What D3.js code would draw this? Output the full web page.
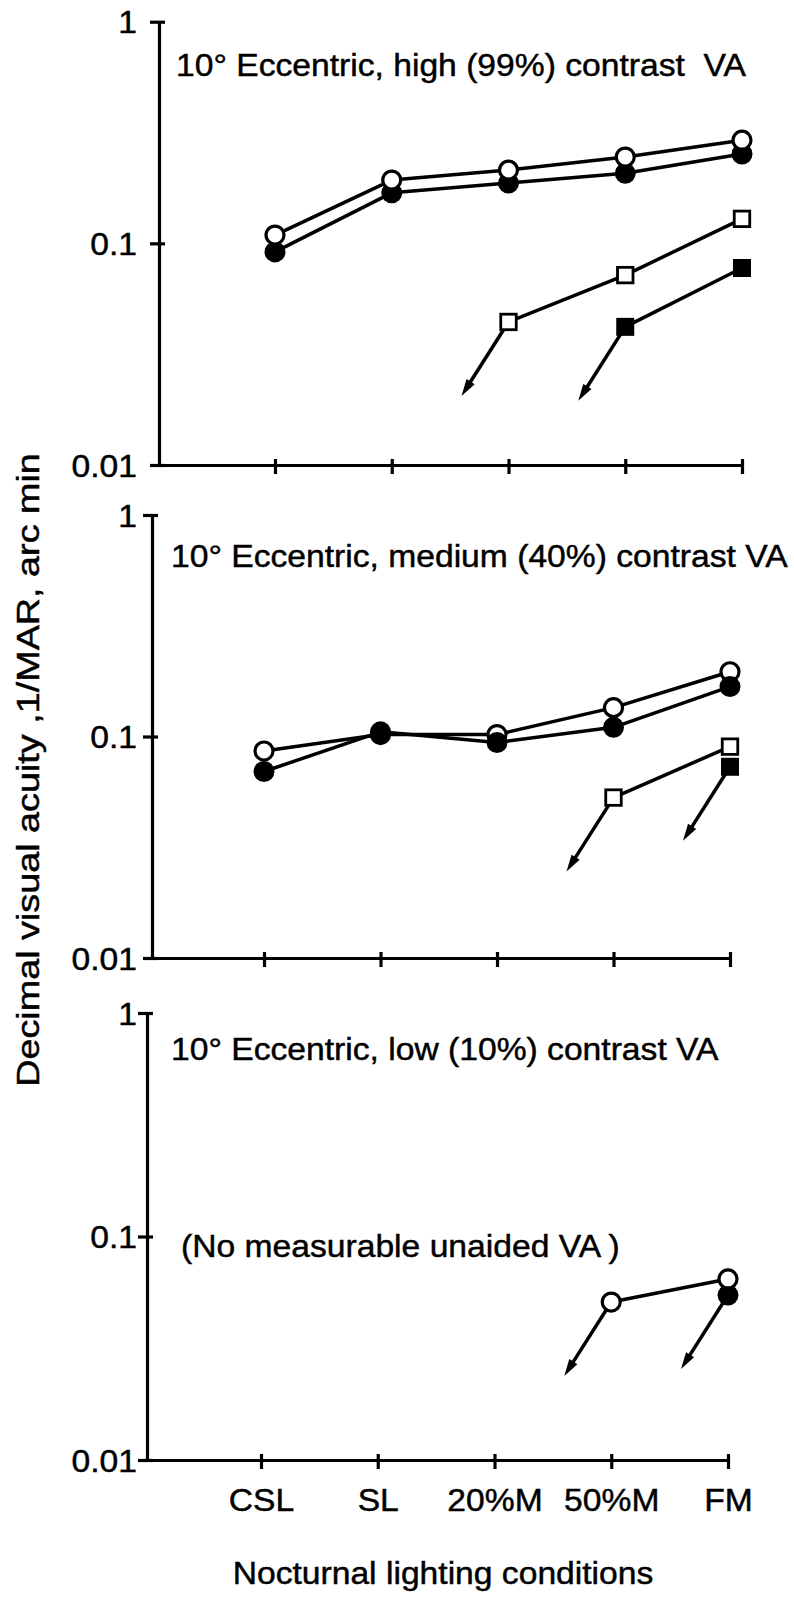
<!DOCTYPE html>
<html>
<head>
<meta charset="utf-8">
<script src="https://cdn.jsdelivr.net/npm/d3@7"></script>
<style>
  html, body { margin: 0; padding: 0; background: #fff; }
  svg { display: block; }
  text { font-family: "Liberation Sans", Arial, Helvetica, sans-serif; font-size: 31px; fill: #000; stroke: #000; stroke-width: 0.45px; white-space: pre; }
</style>
</head>
<body>
<svg id="chart" width="794" height="1608"></svg>
<script>
// ---- data -------------------------------------------------------------
const categories = ["CSL", "SL", "20%M", "50%M", "FM"];
const yTicks = [0.01, 0.1, 1];
const yTickLabels = ["0.01", "0.1", "1"];

const panelTitles = [
  "10\u00B0 Eccentric, high (99%) contrast  VA",
  "10\u00B0 Eccentric, medium (40%) contrast VA",
  "10\u00B0 Eccentric, low (10%) contrast VA"
];
const lowContrastNote = "(No measurable unaided VA )";
const yTitle = "Decimal visual acuity ,1/MAR, arc min";
const xTitle = "Nocturnal lighting conditions";

// high (99%) contrast
const highOpenCircles   = [0.109, 0.193, 0.214, 0.245, 0.292];
const highFilledCircles = [0.0915, 0.169, 0.187, 0.207, 0.253];
const highOpenSquares   = [null, null, 0.0442, 0.0719, 0.129];
const highFilledSquares = [null, null, null, 0.042, 0.0774];

// medium (40%) contrast
const mediumOpenCircles   = [0.086, 0.102, 0.102, 0.135, 0.196];
const mediumFilledCircles = [0.0695, 0.105, 0.094, 0.110, 0.168];
const mediumOpenSquares   = [null, null, null, 0.053, 0.090];
const mediumFilledSquares = [null, null, null, null, 0.073];

// low (10%) contrast
const lowOpenCircles   = [null, null, null, 0.0509, 0.0646];
const lowFilledCircles = [null, null, null, null, 0.0547];

// ---- layout -----------------------------------------------------------
const STRETCH = 1.085;
const LABEL_RIGHT = 137;

const panels = [
  {
    title: panelTitles[0], titleX: 176, titleY: 76,
    axisX: 159, firstX: 275, lastX: 742, top: 21.7, bottom: 465,
    showCategoryLabels: false,
    series: [
      { values: highFilledCircles, shape: "circle", filled: true },
      { values: highOpenCircles,   shape: "circle", filled: false },
      { values: highOpenSquares,   shape: "square", filled: false, belowRange: true },
      { values: highFilledSquares, shape: "square", filled: true,  belowRange: true }
    ]
  },
  {
    title: panelTitles[1], titleX: 171, titleY: 567,
    axisX: 152, firstX: 264, lastX: 730, top: 515, bottom: 958,
    showCategoryLabels: false,
    series: [
      { values: mediumOpenCircles,   shape: "circle", filled: false },
      { values: mediumFilledCircles, shape: "circle", filled: true },
      { values: mediumOpenSquares,   shape: "square", filled: false, belowRange: true },
      { values: mediumFilledSquares, shape: "square", filled: true,  belowRange: true }
    ]
  },
  {
    title: panelTitles[2], titleX: 171, titleY: 1060,
    note: lowContrastNote, noteX: 181, noteY: 1257,
    axisX: 147, firstX: 261, lastX: 728, top: 1013, bottom: 1460,
    showCategoryLabels: true,
    series: [
      { values: lowFilledCircles, shape: "circle", filled: true,  belowRange: true },
      { values: lowOpenCircles,   shape: "circle", filled: false, belowRange: true }
    ]
  }
];

// ---- drawing ----------------------------------------------------------
const svg = d3.select("#chart");

// widen glyphs horizontally to the typeface proportions used in the figure
function stretch(sel, k) {
  sel.each(function () {
    const len = this.getComputedTextLength();
    d3.select(this).attr("textLength", len * k).attr("lengthAdjust", "spacingAndGlyphs");
  });
}

function drawArrow(g, x0, y0) {
  const dx = -47, dy = 74;
  const len = Math.hypot(dx, dy);
  const ux = dx / len, uy = dy / len;
  const px = -uy, py = ux;
  const tipX = x0 + dx, tipY = y0 + dy;
  const headLen = 17, headHalf = 4.8;
  const bx = tipX - ux * headLen, by = tipY - uy * headLen;
  g.append("line")
    .attr("x1", x0).attr("y1", y0).attr("x2", bx + ux * 2).attr("y2", by + uy * 2)
    .attr("stroke", "#000").attr("stroke-width", 3.5);
  g.append("path")
    .attr("d", `M${tipX},${tipY}L${bx + px * headHalf},${by + py * headHalf}L${bx - px * headHalf},${by - py * headHalf}Z`)
    .attr("fill", "#000");
}

panels.forEach(p => {
  const g = svg.append("g");
  const x = d3.scaleLinear().domain([0, categories.length - 1]).range([p.firstX, p.lastX]);
  const y = d3.scaleLog().domain([0.01, 1]).range([p.bottom, p.top]);

  // y axis
  const yAxis = d3.axisLeft(y)
    .tickValues(yTicks)
    .tickFormat((d, i) => yTickLabels[i])
    .tickSizeOuter(0)
    .tickSizeInner(9);
  const gy = g.append("g")
    .attr("transform", `translate(${p.axisX},0)`)
    .attr("font-size", null).attr("font-family", null)
    .call(yAxis);
  gy.select(".domain").attr("stroke", "#000").attr("stroke-width", 3.2);
  gy.selectAll(".tick line").attr("x1", 6).attr("x2", -9).attr("stroke", "#000").attr("stroke-width", 3.2);
  gy.selectAll(".tick text")
    .attr("x", LABEL_RIGHT - p.axisX)
    .attr("dy", "0.36em")
    .call(stretch, STRETCH);

  // x axis (runs from the y axis to the last condition)
  const xa = x.copy().domain([x.invert(p.axisX), categories.length - 1]).range([p.axisX, p.lastX]);
  const xAxis = d3.axisBottom(xa)
    .tickValues(d3.range(categories.length))
    .tickFormat(i => p.showCategoryLabels ? categories[i] : "")
    .tickSizeOuter(0)
    .tickSizeInner(9);
  const gx = g.append("g")
    .attr("transform", `translate(0,${p.bottom})`)
    .attr("font-size", null).attr("font-family", null)
    .call(xAxis);
  gx.select(".domain").attr("stroke", "#000").attr("stroke-width", 3.2);
  gx.selectAll(".tick line").attr("y1", -6).attr("y2", 9).attr("stroke", "#000").attr("stroke-width", 3.2);
  gx.selectAll(".tick text").attr("y", 51).attr("dy", 0);
  if (p.showCategoryLabels) gx.selectAll(".tick text").call(stretch, STRETCH);

  // titles
  g.append("text").attr("x", p.titleX).attr("y", p.titleY).attr("xml:space", "preserve")
    .text(p.title).call(stretch, STRETCH);
  if (p.note) {
    g.append("text").attr("x", p.noteX).attr("y", p.noteY).attr("xml:space", "preserve")
      .text(p.note).call(stretch, STRETCH);
  }

  // series
  const pts = s => s.values.map((v, i) => ({ i, v })).filter(d => d.v != null);
  const line = d3.line().x(d => x(d.i)).y(d => y(d.v));

  const lines = g.append("g");
  const arrows = g.append("g");
  const marks = g.append("g");

  p.series.forEach(s => {
    const data = pts(s);
    if (data.length > 1) {
      lines.append("path").datum(data).attr("d", line)
        .attr("fill", "none").attr("stroke", "#000").attr("stroke-width", 3.5)
        .attr("stroke-linejoin", "round");
    }
    if (s.belowRange) {
      const d0 = data[0];
      drawArrow(arrows, x(d0.i), y(d0.v));
    }
  });

  p.series.forEach(s => {
    const data = pts(s);
    const sg = marks.append("g");
    if (s.shape === "circle") {
      sg.selectAll("circle").data(data).join("circle")
        .attr("cx", d => x(d.i)).attr("cy", d => y(d.v))
        .attr("r", s.filled ? 10.5 : 9)
        .attr("fill", s.filled ? "#000" : "#fff")
        .attr("stroke", "#000").attr("stroke-width", s.filled ? 0 : 3.2);
    } else {
      const side = s.filled ? 18 : 15.5;
      sg.selectAll("rect").data(data).join("rect")
        .attr("x", d => x(d.i) - side / 2).attr("y", d => y(d.v) - side / 2)
        .attr("width", side).attr("height", side)
        .attr("fill", s.filled ? "#000" : "#fff")
        .attr("stroke", "#000").attr("stroke-width", s.filled ? 0 : 2.8);
    }
  });
});

// axis titles
svg.append("text")
  .attr("transform", "translate(39,770) rotate(-90)")
  .attr("text-anchor", "middle")
  .style("font-size", "32px")
  .text(yTitle).call(stretch, 1.18);

svg.append("text")
  .attr("x", 443).attr("y", 1584)
  .attr("text-anchor", "middle")
  .text(xTitle).call(stretch, STRETCH);
</script>
</body>
</html>
